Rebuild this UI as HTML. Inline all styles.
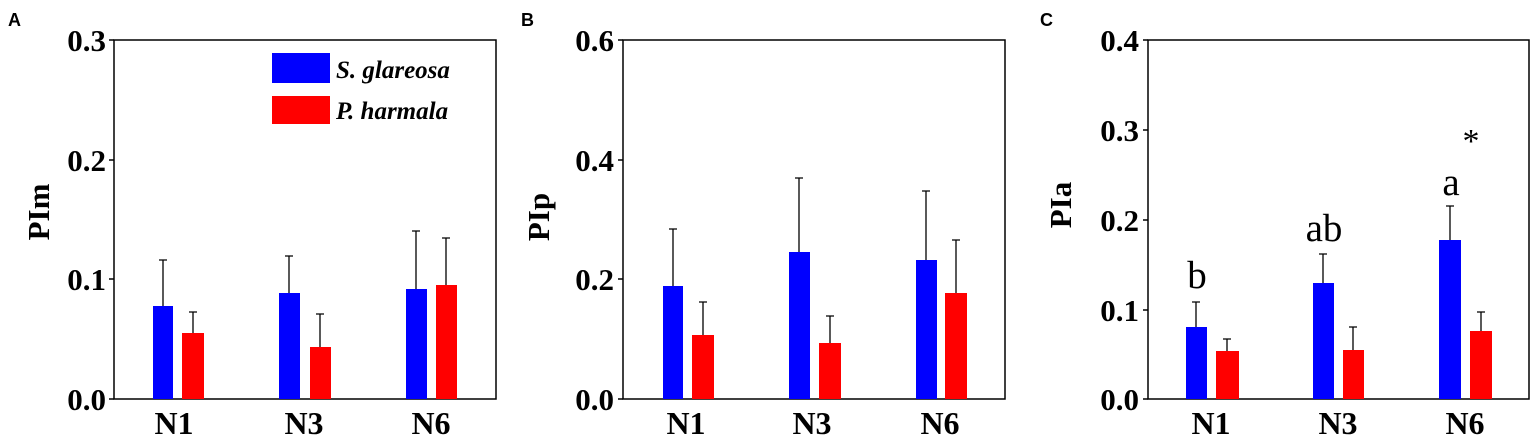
<!DOCTYPE html>
<html><head><meta charset="utf-8"><style>body{margin:0;background:#fff}svg{display:block}</style></head>
<body>
<svg width="1535" height="437" xmlns="http://www.w3.org/2000/svg" font-family="Liberation Serif, serif">
<g font-family="Liberation Sans, sans-serif" font-weight="bold" font-size="18">
<text x="8" y="26">A</text><text x="521" y="26">B</text><text x="1040" y="26">C</text></g>
<g fill="none" stroke="#000" stroke-width="1.5">
<rect x="114" y="40" width="382" height="359"/>
<rect x="623" y="40" width="382" height="359"/>
<rect x="1148" y="40" width="381" height="359"/>
<path d="M109 40H114M109 160H114M109 279H114M109 399H114"/>
<path d="M618 40H623M618 160H623M618 279H623M618 399H623"/>
<path d="M1143 40H1148M1143 130H1148M1143 220H1148M1143 310H1148M1143 399H1148"/>
</g>
<g font-weight="bold" font-size="31" text-anchor="end">
<text x="106" y="51">0.3</text><text x="106" y="171">0.2</text><text x="106" y="290">0.1</text><text x="106" y="410">0.0</text>
<text x="614" y="51">0.6</text><text x="614" y="171">0.4</text><text x="614" y="290">0.2</text><text x="614" y="410">0.0</text>
<text x="1139" y="51">0.4</text><text x="1139" y="141">0.3</text><text x="1139" y="231">0.2</text><text x="1139" y="321">0.1</text><text x="1139" y="410">0.0</text>
</g>
<g font-weight="bold" font-size="31" text-anchor="middle">
<text transform="translate(49,212) rotate(-90)">PIm</text>
<text transform="translate(549,217) rotate(-90)">PIp</text>
<text transform="translate(1071,205) rotate(-90)">PIa</text>
</g>
<g font-weight="bold" font-size="32" text-anchor="middle">
<text x="174" y="434">N1</text><text x="304" y="434">N3</text><text x="431" y="434">N6</text>
<text x="686" y="434">N1</text><text x="812" y="434">N3</text><text x="940" y="434">N6</text>
<text x="1211" y="434">N1</text><text x="1338" y="434">N3</text><text x="1465" y="434">N6</text>
</g>
<g stroke="#000" stroke-width="1.3" fill="none">
<path d="M163 306V260M159 260H167M193 333V312M189 312H197M289 293V256M285 256H293M320 347V314M316 314H324M416 289V231M412 231H420M446 285V238M442 238H450"/>
<path d="M673 286V229M669 229H677M703 335V302M699 302H707M799 252V178M795 178H803M830 343V316M826 316H834M926 260V191M922 191H930M956 293V240M952 240H960"/>
<path d="M1196 327V302M1192 302H1200M1227 351V339M1223 339H1231M1323 283V254M1319 254H1327M1353 350V327M1349 327H1357M1450 240V206M1446 206H1454M1481 331V312M1477 312H1485"/>
</g>
<g fill="#0000ff">
<rect x="153" y="306" width="20" height="93"/><rect x="279" y="293" width="21" height="106"/><rect x="406" y="289" width="21" height="110"/>
<rect x="663" y="286" width="20" height="113"/><rect x="789" y="252" width="21" height="147"/><rect x="916" y="260" width="21" height="139"/>
<rect x="1186" y="327" width="21" height="72"/><rect x="1313" y="283" width="21" height="116"/><rect x="1439" y="240" width="22" height="159"/>
<rect x="272" y="53" width="58" height="30"/>
</g>
<g fill="#ff0000">
<rect x="182" y="333" width="22" height="66"/><rect x="310" y="347" width="21" height="52"/><rect x="436" y="285" width="21" height="114"/>
<rect x="692" y="335" width="22" height="64"/><rect x="819" y="343" width="22" height="56"/><rect x="945" y="293" width="22" height="106"/>
<rect x="1216" y="351" width="23" height="48"/><rect x="1343" y="350" width="21" height="49"/><rect x="1470" y="331" width="22" height="68"/>
<rect x="272" y="96" width="58" height="28"/>
</g>
<g font-weight="bold" font-style="italic" font-size="25">
<text x="336" y="78">S. glareosa</text><text x="336" y="119">P. harmala</text>
</g>
<g font-size="39" text-anchor="middle">
<text x="1197" y="288">b</text><text x="1324" y="241">ab</text><text x="1451" y="195">a</text>
<text x="1471" y="152" font-size="34">*</text>
</g>
</svg>
</body></html>
